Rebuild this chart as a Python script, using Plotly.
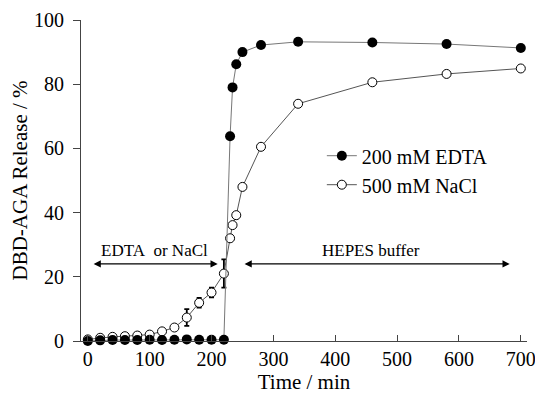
import plotly.graph_objects as go

# EDTA (filled) series
edta_t = [0, 20, 40, 60, 80, 100, 120, 140, 160, 180, 200, 220, 230, 234, 240, 250, 280, 340, 460, 580, 700]
edta_v = [0.0, 0.2, 0.3, 0.3, 0.3, 0.4, 0.3, 0.4, 0.5, 0.4, 0.4, 0.4, 63.8, 79.0, 86.2, 90.0, 92.2, 93.2, 93.0, 92.5, 91.3]

# NaCl (open) series
nacl_t = [0, 20, 40, 60, 80, 100, 120, 140, 160, 180, 200, 220, 230, 234, 240, 250, 280, 340, 460, 580, 700]
nacl_v = [0.5, 1.0, 1.3, 1.5, 1.7, 2.0, 3.0, 4.2, 7.3, 11.9, 15.1, 21.0, 32.0, 36.1, 39.2, 48.0, 60.5, 73.9, 80.6, 83.2, 84.9]
nacl_err = [0.2, 0.3, 0.3, 0.3, 0.4, 0.5, 0.6, 0.8, 2.6, 1.5, 1.5, 4.4, 0.8, 0.8, 0.8, 0.8, 0.8, 0.8, 0.8, 0.8, 0.8]

x_ticks = [0, 100, 200, 300, 400, 500, 600, 700]
y_ticks = [0, 20, 40, 60, 80, 100]

FONT = "Liberation Serif, Times New Roman, DejaVu Serif, serif"

fig = go.Figure()
fig.add_trace(go.Scatter(
    x=nacl_t, y=nacl_v, mode="lines+markers", name="500 mM NaCl",
    line=dict(color="#555555", width=1),
    marker=dict(symbol="circle", size=9, color="white", line=dict(color="black", width=1)),
    error_y=dict(type="data", array=nacl_err, color="black", thickness=1.8, width=2.5),
    cliponaxis=False,
))
fig.add_trace(go.Scatter(
    x=edta_t, y=edta_v, mode="lines+markers", name="200 mM EDTA",
    line=dict(color="#777777", width=1),
    marker=dict(symbol="circle", size=10, color="black"),
    cliponaxis=False,
))

# double-headed arrows
fig.add_annotation(x=210, y=24, ax=7, ay=24, xref="x", yref="y", axref="x", ayref="y",
                   showarrow=True, arrowhead=2, arrowside="end+start", arrowsize=1.2,
                   arrowwidth=1.2, arrowcolor="black", text="")
fig.add_annotation(x=682, y=24, ax=251, ay=24, xref="x", yref="y", axref="x", ayref="y",
                   showarrow=True, arrowhead=2, arrowside="end+start", arrowsize=1.2,
                   arrowwidth=1.2, arrowcolor="black", text="")
fig.add_annotation(x=108, y=28.3, xref="x", yref="y", text="EDTA\u00a0\u00a0or NaCl",
                   showarrow=False, font=dict(family=FONT, size=17, color="black"))
fig.add_annotation(x=458, y=28.3, xref="x", yref="y", text="HEPES buffer",
                   showarrow=False, font=dict(family=FONT, size=17, color="black"))

fig.update_layout(
    width=535, height=389,
    margin=dict(l=73, r=16, t=12, b=56, autoexpand=False),
    paper_bgcolor="white", plot_bgcolor="white",
    font=dict(family=FONT, size=19, color="black"),
    showlegend=True,
    legend=dict(x=0.54, y=0.638, xanchor="left", yanchor="top",
                font=dict(family=FONT, size=20, color="black"),
                bgcolor="rgba(0,0,0,0)", traceorder="reversed",
                itemwidth=30, tracegroupgap=0),
    xaxis=dict(range=[-11, 710], tickvals=x_ticks, ticks="inside", ticklen=6,
               tickcolor="#444", showline=True, linecolor="#444", linewidth=1,
               showgrid=False, zeroline=False, automargin=False,
               title=dict(text="Time / min", font=dict(size=21), standoff=4),
               tickfont=dict(size=20)),
    yaxis=dict(range=[0, 100], tickvals=y_ticks, ticks="outside", ticklen=7,
               tickcolor="#444", showline=True, linecolor="#444", linewidth=1,
               showgrid=False, zeroline=False, automargin=False,
               ticklabelstandoff=5,
               title=dict(text="DBD-AGA Release / %", font=dict(size=21), standoff=8),
               tickfont=dict(size=20)),
)

fig.write_html("out.html")
